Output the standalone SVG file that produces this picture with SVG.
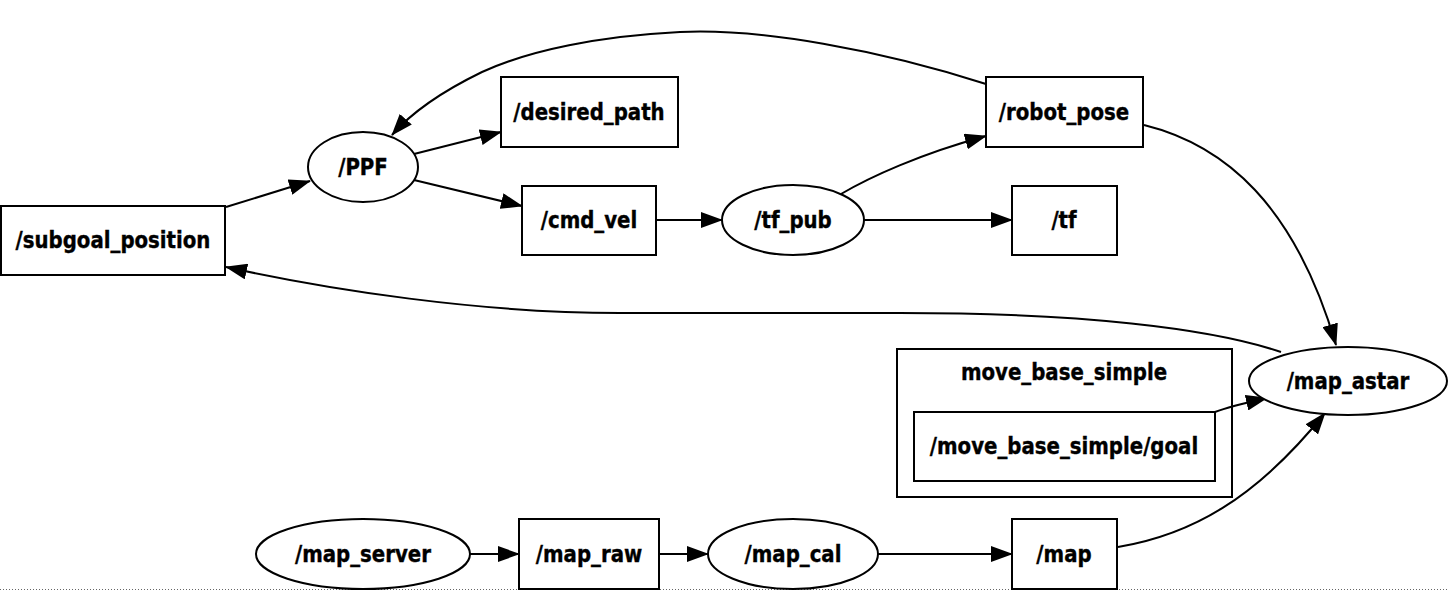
<svg xmlns="http://www.w3.org/2000/svg" width="1449" height="591" viewBox="0 0 1449 591">
<style>
.n{fill:#fff;stroke:#000;stroke-width:2}
.c{fill:none;stroke:#000;stroke-width:2}
.e{fill:none;stroke:#000;stroke-width:2;marker-end:url(#ah)}
text{font-family:"DejaVu Sans Condensed","DejaVu Sans",sans-serif;font-stretch:condensed;font-weight:bold;font-size:23px;text-anchor:middle;fill:#000;stroke:#000;stroke-width:0.35;transform-box:fill-box;transform-origin:center;transform:scaleX(0.955)}
</style>
<defs>
<marker id="ah" viewBox="0 0 22 16" refX="21" refY="8" markerWidth="22" markerHeight="16" orient="auto" markerUnits="userSpaceOnUse">
<path d="M0,0 L22,8 L0,16 z" fill="#000"/>
</marker>
</defs>
<rect width="1449" height="591" fill="#fff"/>
<line x1="0" y1="589.5" x2="1449" y2="589.5" stroke="#666" stroke-width="1" stroke-dasharray="1 2"/>
<g id="cluster_move_base_simple">
<rect class="c" x="897" y="349" width="335" height="148"/>
<text x="1064" y="380">move_base_simple</text>
</g>
<g id="edges">
<path class="e" d="M226,207 L310,181"/>
<path class="e" d="M414,154 L501,132"/>
<path class="e" d="M414,180 L522,206"/>
<path class="e" d="M657,220 L722,220"/>
<path class="e" d="M841,194 C870,177 920,154 986,136"/>
<path class="e" d="M864,220 L1012,220"/>
<path class="e" d="M986,84 C880,50 760,28 680,32 C600,36 530,50 482,72 C445,90 412,112 392,135"/>
<path class="e" d="M1144,125 C1225,145 1295,205 1336,345"/>
<path class="e" d="M1281,352 C1210,328 1080,313 900,313 L620,313 C480,313 330,290 226,267"/>
<path class="e" d="M1215,412 C1228,407 1245,403 1267,398"/>
<path class="e" d="M1118,547 C1190,535 1255,500 1325,413"/>
<path class="e" d="M470,554 L519,554"/>
<path class="e" d="M659,554 L708,554"/>
<path class="e" d="M878,554 L1012,554"/>
</g>
<g id="subgoal_position"><rect class="n" x="1" y="206" width="224" height="69"/><text x="113" y="248.5">/subgoal_position</text></g>
<g id="PPF"><ellipse class="n" cx="363" cy="167" rx="55" ry="35"/><text x="363" y="175.5">/PPF</text></g>
<g id="desired_path"><rect class="n" x="501" y="77" width="177" height="70"/><text x="589" y="120.5">/desired_path</text></g>
<g id="cmd_vel"><rect class="n" x="522" y="186" width="134" height="69"/><text x="589" y="228.5">/cmd_vel</text></g>
<g id="tf_pub"><ellipse class="n" cx="793" cy="220" rx="71" ry="35"/><text x="793" y="228.5">/tf_pub</text></g>
<g id="robot_pose"><rect class="n" x="986" y="77" width="157" height="70"/><text x="1064" y="120.5">/robot_pose</text></g>
<g id="tf"><rect class="n" x="1012" y="186" width="105" height="69"/><text x="1064" y="228.5">/tf</text></g>
<g id="map_astar"><ellipse class="n" cx="1348" cy="381" rx="99" ry="34"/><text x="1348" y="389.5">/map_astar</text></g>
<g id="move_base_simple_goal"><rect class="n" x="914" y="412" width="301" height="69"/><text x="1064" y="454.5">/move_base_simple/goal</text></g>
<g id="map_server"><ellipse class="n" cx="363" cy="554" rx="107" ry="35"/><text x="363" y="562.5">/map_server</text></g>
<g id="map_raw"><rect class="n" x="519" y="519" width="140" height="70"/><text x="589" y="562.5">/map_raw</text></g>
<g id="map_cal"><ellipse class="n" cx="793" cy="554" rx="85" ry="35"/><text x="793" y="562.5">/map_cal</text></g>
<g id="map"><rect class="n" x="1012" y="519" width="105" height="70"/><text x="1064" y="562.5">/map</text></g>
</svg>
